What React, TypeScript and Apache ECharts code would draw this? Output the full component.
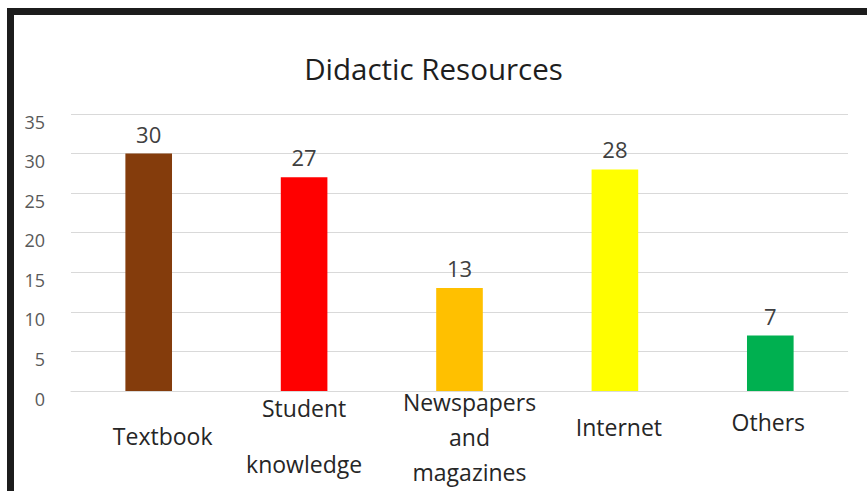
import React, { useEffect, useRef } from "react";
import * as echarts from "echarts";

const titleText = "Didactic Resources";
const categories = ["Textbook", "Student\n\nknowledge", "Newspapers\nand\nmagazines", "Internet", "Others"];
const values = [30, 27, 13, 28, 7];
const barColors = ["#843C0C", "#FF0000", "#FFC000", "#FFFF00", "#00B050"];
const labelLineHeights = [30, 28, 35, 30, 30];
const labelPadTop = [39.5, 12.5, 3, 30.5, 26];
const labelPadLeft = [28, 0, 20, 8, 0];
const labelPadRight = [0, 0, 0, 0, 4];
const yMin = 0;
const yMax = 35;
const yInterval = 5;

const FONT = "'Open Sans', 'Noto Sans', sans-serif";

export default function App() {
  const ref = useRef<HTMLDivElement>(null);
  useEffect(() => {
    if (!ref.current) return;
    const chart = echarts.init(ref.current, null, { renderer: "svg" });
    chart.setOption({
      animation: false,
      backgroundColor: "#ffffff",
      title: {
        text: titleText,
        left: "center",
        top: 53,
        padding: 0,
        textStyle: { fontFamily: FONT, fontSize: 29.5, fontWeight: "normal", color: "#1e1e1e", lineHeight: 30 },
      },
      graphic: [
        {
          type: "rect",
          shape: { x: 10.5, y: 11.5, width: 1000, height: 1000 },
          style: { fill: "none", stroke: "#1c1c1c", lineWidth: 7 },
          silent: true,
          z: 100,
        },
      ],
      grid: { left: 71, right: 19, top: 114, bottom: 100, containLabel: false, outerBoundsMode: "none" },
      xAxis: {
        type: "category",
        data: categories.map((c, i) => ({
          value: c,
          textStyle: {
            lineHeight: labelLineHeights[i],
            padding: [labelPadTop[i], labelPadRight[i], 0, labelPadLeft[i]],
          },
        })),
        axisLine: { show: true, lineStyle: { color: "#d9d9d9", width: 1 } },
        axisTick: { show: false },
        axisLabel: {
          interval: 0,
          margin: -10,
          fontFamily: FONT,
          fontSize: 23,
          color: "#262626",
          verticalAlign: "top",
        },
      },
      yAxis: {
        type: "value",
        min: yMin,
        max: yMax,
        interval: yInterval,
        axisLine: { show: false },
        axisTick: { show: false },
        splitLine: { lineStyle: { color: "#d9d9d9", width: 1 } },
        axisLabel: {
          margin: 26,
          fontFamily: FONT,
          fontSize: 18,
          color: "#595959",
          lineHeight: 15,
          verticalAlign: "top",
        },
      },
      series: [
        {
          type: "bar",
          barWidth: "30%",
          data: values.map((v, i) => ({ value: v, itemStyle: { color: barColors[i] } })),
          label: {
            show: true,
            position: "top",
            distance: 9,
            fontFamily: FONT,
            fontSize: 22,
            lineHeight: 22,
            color: "#404040",
          },
        },
      ],
    });
    return () => chart.dispose();
  }, []);
  return (
    <div
      ref={ref}
      style={{ position: "fixed", left: 0, top: 0, width: 867, height: 491 }}
    />
  );
}
